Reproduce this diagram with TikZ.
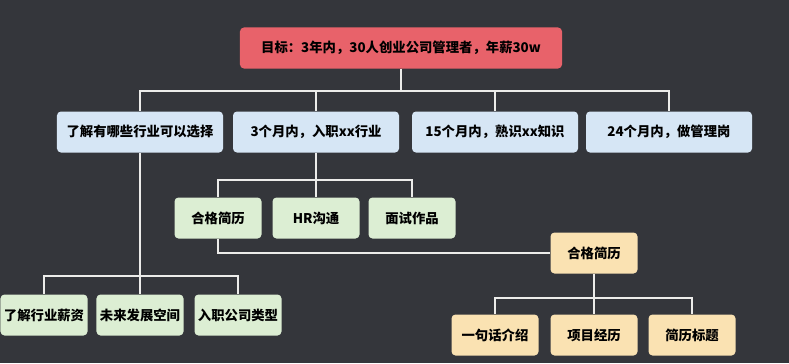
\documentclass[tikz,border=0pt]{standalone}
\usepackage{fontspec}
\newfontfamily\cjk{Noto Sans CJK SC}
\definecolor{board}{HTML}{34363B}
\definecolor{chalk}{HTML}{ECECEA}
\definecolor{goalred}{HTML}{E8626A}
\definecolor{stageblue}{HTML}{D6E6F5}
\definecolor{jobgreen}{HTML}{DCEED3}
\definecolor{cvyellow}{HTML}{FAE2B2}

\begin{document}
\begin{tikzpicture}[
  x=0.03cm,y=-0.03cm,
  box/.style={rounded corners=3.4pt,minimum height=1.23cm,inner sep=1pt,text=black,
    font=\cjk\bfseries\fontsize{11.4}{13}\selectfont},
  goalbox/.style={box,fill=goalred,minimum width=9.66cm},
  stagebox/.style={box,fill=stageblue,minimum width=4.98cm},
  jobbox/.style={box,fill=jobgreen,minimum width=2.61cm},
  cvbox/.style={box,fill=cvyellow,minimum width=2.61cm},
  link/.style={draw=chalk,line width=1.6pt}
]
\fill[board] (0,0) rectangle (789,363);
\useasboundingbox (0,0) rectangle (789,363);
\node[goalbox] (goal) at (401,48) {目标：3年内，30人创业公司管理者，年薪30w};
\node[stagebox] (s1) at (140,132) {了解有哪些行业可以选择};
\node[stagebox] (s2) at (316,132) {3个月内，入职xx行业};
\node[stagebox] (s3) at (495,132) {15个月内，熟识xx知识};
\node[stagebox] (s4) at (669,132) {24个月内，做管理岗};
\node[jobbox] (r1) at (218,218) {合格简历};
\node[jobbox] (r2) at (316,218) {HR沟通};
\node[jobbox] (r3) at (412,218) {面试作品};
\node[cvbox] (cv) at (594,253) {合格简历};
\node[cvbox] (c1) at (495,335) {一句话介绍};
\node[cvbox] (c2) at (594,335) {项目经历};
\node[cvbox] (c3) at (692,335) {简历标题};
\node[jobbox] (k1) at (44,315) {了解行业薪资};
\node[jobbox] (k2) at (140,315) {未来发展空间};
\node[jobbox] (k3) at (238,315) {入职公司类型};
\coordinate (t) at (401,91);
\coordinate (u) at (316,180);
\coordinate (v) at (594,298);
\coordinate (w) at (140,276);
\draw[link] (goal) -- (t);
\foreach \n in {s1,s2,s3,s4} \draw[link] (t) -| (\n);
\draw[link] (s2) -- (u);
\foreach \n in {r1,r2,r3} \draw[link] (u) -| (\n);
\draw[link] (r1) |- (cv);
\draw[link] (cv) -- (v);
\foreach \n in {c1,c2,c3} \draw[link] (v) -| (\n);
\draw[link] (s1) -- (w);
\foreach \n in {k1,k2,k3} \draw[link] (w) -| (\n);
\end{tikzpicture}
\end{document}
